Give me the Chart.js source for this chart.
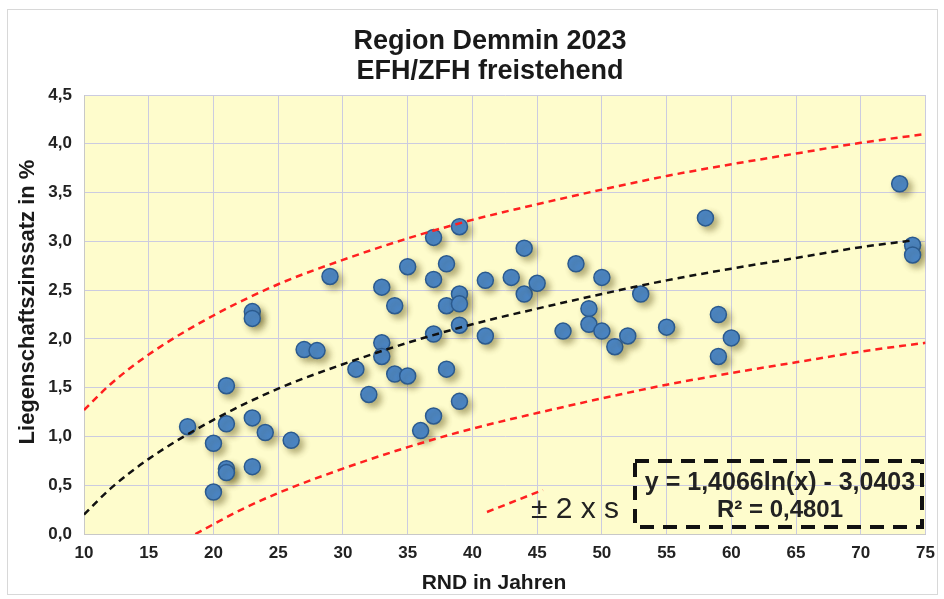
<!DOCTYPE html>
<html>
<head>
<meta charset="utf-8">
<script src="https://cdn.jsdelivr.net/npm/chart.js@4"></script>
<style>
  html, body { margin: 0; padding: 0; background: #fff; }
  #wrap { width: 944px; height: 599px; }
</style>
</head>
<body>
<div id="wrap"><canvas id="chart" width="944" height="599"></canvas></div>
<script>
// Restnutzungsdauer (Jahre) und Liegenschaftszinssatz (%)
const rnd = [18, 20, 20, 21, 21, 21, 21, 23, 23, 23, 23, 24, 26, 27, 28, 29, 31, 32, 33, 33, 33, 34, 34, 35, 35, 36,
  37, 37, 37, 37, 38, 38, 38, 39, 39, 39, 39, 39, 41, 41, 43, 44, 44, 45, 47, 48, 49, 49, 50, 50, 51, 52, 53, 55,
  58, 59, 59, 60, 73, 74, 74];
const zins = [1.10, 0.93, 0.43, 1.52, 1.13, 0.67, 0.63, 0.69, 2.28, 2.21, 1.19, 1.04, 0.96, 1.89, 1.88, 2.64, 1.69, 1.43,
  2.53, 1.96, 1.82, 2.34, 1.64, 2.74, 1.62, 1.06, 3.04, 2.61, 2.05, 1.21, 2.77, 2.34, 1.69, 3.15, 2.46, 2.36, 2.14, 1.36,
  2.60, 2.03, 2.63, 2.93, 2.46, 2.57, 2.08, 2.77, 2.31, 2.15, 2.63, 2.08, 1.92, 2.03, 2.46, 2.12, 3.24, 2.25, 1.82, 2.01,
  3.59, 2.96, 2.86];

// Trendlinie (log) und Band +/- 2 x s
const trendX = [10, 12, 15, 20, 25, 30, 35, 40, 45, 50, 55, 60, 65, 70, 74];
const trendY = [0.20, 0.46, 0.77, 1.17, 1.49, 1.74, 1.96, 2.15, 2.31, 2.46, 2.60, 2.72, 2.83, 2.94, 3.01];
const upperX = [10, 12, 15, 20, 25, 30, 35, 40, 45, 50, 55, 60, 65, 70, 75];
const upperY = [1.27, 1.53, 1.84, 2.24, 2.56, 2.81, 3.03, 3.22, 3.38, 3.53, 3.67, 3.79, 3.90, 4.01, 4.10];
const lowerX = [18.6, 20, 22, 25, 30, 35, 40, 45, 50, 55, 60, 65, 70, 75];
const lowerY = [0.00, 0.10, 0.24, 0.42, 0.67, 0.89, 1.08, 1.24, 1.39, 1.53, 1.65, 1.76, 1.87, 1.96];

const xTicks = [10, 15, 20, 25, 30, 35, 40, 45, 50, 55, 60, 65, 70, 75];
const yTicks = [0, 0.5, 1, 1.5, 2, 2.5, 3, 3.5, 4, 4.5];

const titleLines = ["Region Demmin 2023", "EFH/ZFH freistehend"];
const xTitle = "RND in Jahren";
const yTitle = "Liegenschaftszinssatz in %";
const equationText = ["y = 1,4066ln(x) - 3,0403", "R\u00b2 = 0,4801"];
const bandLabel = "\u00b1 2 x s";

const FONT = "'Liberation Sans', Arial, sans-serif";

const toXY = (xs, ys) => xs.map((x, i) => ({ x: x, y: ys[i] }));

const frameAndText = {
  id: "frameAndText",
  beforeDraw(chart) {
    const { ctx, chartArea: a } = chart;
    ctx.save();
    ctx.fillStyle = "#fefccc";
    ctx.fillRect(a.left, a.top, a.right - a.left, a.bottom - a.top);
    ctx.strokeStyle = "#d8d8d8";
    ctx.lineWidth = 1;
    ctx.strokeRect(7.5, 9.5, 930, 585);
    ctx.restore();
  },
  afterDraw(chart) {
    const { ctx } = chart;
    ctx.save();
    ctx.fillStyle = "#1a1a1a";
    ctx.textAlign = "center";
    ctx.textBaseline = "middle";
    // Titel
    ctx.font = "bold 27px " + FONT;
    ctx.fillText(titleLines[0], 490, 42);
    ctx.fillText(titleLines[1], 490, 72);
    // Achsentitel
    ctx.font = "bold 21px " + FONT;
    ctx.fillText(xTitle, 494, 583);
    ctx.save();
    ctx.translate(28, 302);
    ctx.rotate(-Math.PI / 2);
    ctx.font = "bold 22px " + FONT;
    ctx.fillText(yTitle, 0, 0);
    ctx.restore();
    // Legende fuer das Band
    ctx.strokeStyle = "#ff2020";
    ctx.lineWidth = 2.5;
    ctx.setLineDash([7, 5]);
    ctx.beginPath();
    ctx.moveTo(487, 512);
    ctx.lineTo(543, 490);
    ctx.stroke();
    ctx.setLineDash([]);
    ctx.fillStyle = "#222";
    ctx.font = "30px " + FONT;
    ctx.fillText(bandLabel, 575, 510);
    // Gleichungsbox
    ctx.strokeStyle = "#111";
    ctx.lineWidth = 4;
    ctx.setLineDash([14, 9]);
    ctx.strokeRect(635, 461, 287, 66);
    ctx.setLineDash([]);
    ctx.font = "bold 25px " + FONT;
    ctx.fillText(equationText[0], 780, 483);
    ctx.font = "bold 24px " + FONT;
    ctx.fillText(equationText[1], 780, 510);
    ctx.restore();
  }
};

const pointShadow = {
  id: "pointShadow",
  beforeDatasetDraw(chart, args) {
    if (args.index !== 3) return;
    const ctx = chart.ctx;
    ctx.save();
    ctx.shadowColor = "rgba(90, 80, 20, 0.45)";
    ctx.shadowBlur = 6;
    ctx.shadowOffsetX = 4;
    ctx.shadowOffsetY = 4;
  },
  afterDatasetDraw(chart, args) {
    if (args.index !== 3) return;
    chart.ctx.restore();
  }
};

const lineStyle = (color) => ({
  type: "line",
  borderColor: color,
  borderWidth: 2.5,
  borderDash: [7, 5],
  pointRadius: 0,
  fill: false,
  cubicInterpolationMode: "monotone",
});

new Chart(document.getElementById("chart"), {
  type: "scatter",
  data: {
    datasets: [
      { ...lineStyle("#111"), data: toXY(trendX, trendY) },
      { ...lineStyle("#ff2020"), data: toXY(upperX, upperY) },
      { ...lineStyle("#ff2020"), data: toXY(lowerX, lowerY) },
      {
        data: toXY(rnd, zins),
        backgroundColor: "#4a86c8",
        borderColor: "#2b5a8e",
        borderWidth: 1.5,
        pointRadius: 8,
      },
    ],
  },
  options: {
    responsive: false,
    animation: false,
    layout: { padding: { left: 0, right: 18, top: 95, bottom: 0 } },
    plugins: {
      legend: { display: false },
      tooltip: { enabled: false },
      title: { display: false },
    },
    scales: {
      x: {
        type: "linear",
        min: 10,
        max: 75,
        afterBuildTicks: (s) => { s.ticks = xTicks.map((v) => ({ value: v })); },
        afterFit: (s) => { s.height = 65; },
        grid: { color: "#cbcbe0", drawTicks: false },
        border: { color: "#c8c8c8" },
        ticks: {
          padding: 9,
          color: "#222",
          font: { family: FONT, size: 17, weight: "bold" },
        },
      },
      y: {
        min: 0,
        max: 4.5,
        afterBuildTicks: (s) => { s.ticks = yTicks.map((v) => ({ value: v })); },
        afterFit: (s) => { s.width = 84; },
        grid: { color: "#cbcbe0", drawTicks: false },
        border: { color: "#c8c8c8" },
        ticks: {
          padding: 12,
          color: "#222",
          font: { family: FONT, size: 17, weight: "bold" },
          callback: (v) => v.toFixed(1).replace(".", ","),
        },
      },
    },
  },
  plugins: [frameAndText, pointShadow],
});
</script>
</body>
</html>
